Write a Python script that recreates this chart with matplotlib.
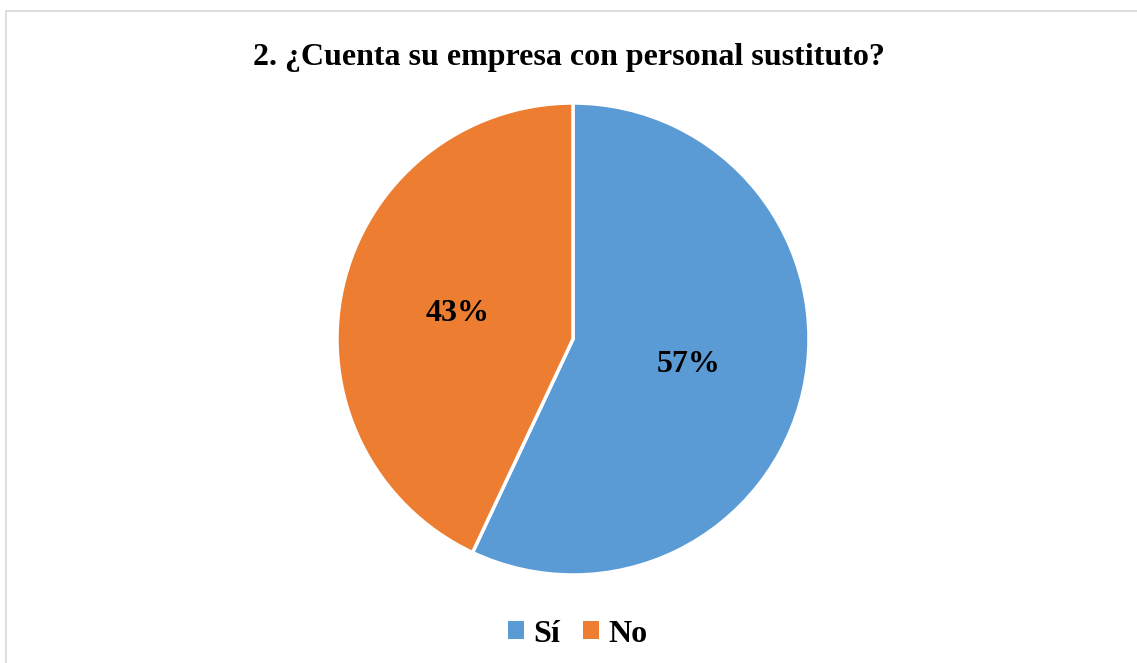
import matplotlib.pyplot as plt
from matplotlib.patches import Rectangle

# Survey answers
labels = ['Sí', 'No']
shares = [57, 43]
colors = ['#5B9BD5', '#ED7D31']

plt.rcParams['font.family'] = ['Liberation Serif', 'DejaVu Serif']

fig = plt.figure(figsize=(11.37, 6.63), dpi=100)

# light frame around the chart area
fig.patches.append(Rectangle((6 / 1137, -0.1), 1.2, (663 - 11) / 663 + 0.1,
                             transform=fig.transFigure, fill=False,
                             edgecolor='#D9D9D9', linewidth=1.2))

ax = fig.add_axes([337 / 1137, 88 / 663, 472 / 1137, 472 / 663])
wedges, texts, autotexts = ax.pie(
    shares, colors=colors, startangle=90, counterclock=False,
    autopct='%d%%', pctdistance=0.5,
    wedgeprops=dict(edgecolor='white', linewidth=2.5),
    textprops=dict(fontsize=23, fontweight='bold', color='black'))
ax.set_xlim(-1, 1)
ax.set_ylim(-1, 1)
ax.set_aspect('equal')

fig.text(0.5, 1 - 57 / 663, '2. ¿Cuenta su empresa con personal sustituto?',
         ha='center', va='center', fontsize=23, fontweight='bold')

leg = fig.legend(wedges, labels, loc='center', bbox_to_anchor=(0.508, 1 - 634 / 663),
                 ncol=2, frameon=False, handlelength=0.5, handleheight=0.5,
                 handletextpad=0.3, columnspacing=0.7,
                 prop=dict(size=23, weight='bold'))
for h in leg.legend_handles:
    h.set_linewidth(0)

fig.savefig('out.png', dpi=100)
